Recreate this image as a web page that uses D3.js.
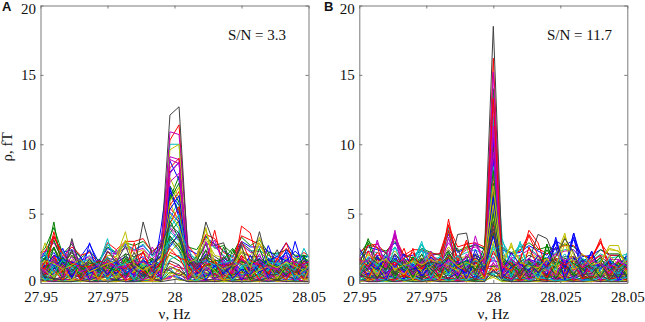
<!DOCTYPE html>
<html>
<head>
<meta charset="utf-8">
<script src="https://d3js.org/d3.v7.min.js"></script>
<style>
  html, body { margin: 0; padding: 0; background: #fff; }
  svg { display: block; }
  text { font-family: "Liberation Serif", serif; font-size: 15px; fill: #111; }
  .letter { font-family: "Liberation Sans", sans-serif; font-size: 13px; font-weight: bold; }
</style>
</head>
<body>
<svg id="chart" width="645" height="322"></svg>
<script>
// tick labels
const xTicks = [27.95, 27.975, 28, 28.025, 28.05];
const yTicks = [0, 5, 10, 15, 20];

// frequency bins, panel A sits half a bin off the 28 Hz line
const freqsA = [27.9483,27.9517,27.955,27.9583,27.9617,27.965,27.9683,27.9717,27.975,27.9783,27.9817,27.985,27.9883,27.9917,27.995,27.9983,
                28.0017,28.005,28.0083,28.0117,28.015,28.0183,28.0217,28.025,28.0283,28.0317,28.035,28.0383,28.0417,28.045,28.0483,28.0517];
const freqsB = [27.95,27.9533,27.9567,27.96,27.9633,27.9667,27.97,27.9733,27.9767,27.98,27.9833,27.9867,27.99,27.9933,27.9967,28,
                28.0033,28.0067,28.01,28.0133,28.0167,28.02,28.0233,28.0267,28.03,28.0333,28.0367,28.04,28.0433,28.0467,28.05];

// amplitude per channel
const channelsA = [
  [0.2,0.3,0.1,0.3,0.2,0.1,0.3,0.1,0.2,0.3,0.1,0.2,0.3,0.1,0.2,0.5,0.4,0.1,0.3,0.1,0.2,0.3,0.1,0.2,0.1,0.3,0.2,0.1,0.3,0.1,0.2,0.3],
  [0.1,0.2,0.3,0.1,0.1,0.3,0.1,0.2,0.1,0.1,0.3,0.1,0.1,0.3,0.1,0.8,0.6,0.3,0.1,0.2,0.1,0.1,0.3,0.1,0.3,0.1,0.1,0.3,0.1,0.2,0.1,0.1],
  [0.3,0.1,0.2,0.1,0.3,0.2,0.1,0.1,0.3,0.1,0.2,0.3,0.1,0.2,0.3,0.3,1.0,0.2,0.1,0.3,0.1,0.2,0.1,0.3,0.2,0.1,0.3,0.2,0.1,0.3,0.1,0.2],
  [0.1,0.4,0.1,0.2,0.1,0.1,0.4,0.2,0.1,0.2,0.1,0.1,0.2,0.1,0.1,1.1,0.3,0.1,0.2,0.1,0.3,0.1,0.2,0.1,0.1,0.2,0.1,0.1,0.2,0.1,0.4,0.1],
  [0.2,0.1,0.1,0.4,0.1,0.3,0.1,0.1,0.2,0.4,0.1,0.1,0.4,0.1,0.2,0.4,0.7,0.1,0.1,0.2,0.1,0.4,0.1,0.1,0.4,0.1,0.2,0.1,0.1,0.4,0.1,0.1],
  [0.1,0.1,0.3,0.1,0.2,0.1,0.2,0.3,0.1,0.1,0.2,0.4,0.1,0.1,0.1,0.6,0.2,0.2,0.1,0.1,0.2,0.1,0.1,0.2,0.1,0.1,0.3,0.1,0.2,0.1,0.1,0.2],
  [0.3,0.2,0.1,0.1,0.1,0.2,0.1,0.1,0.1,0.2,0.1,0.1,0.2,0.3,0.1,0.2,0.3,0.1,0.1,0.1,0.1,0.2,0.1,0.1,0.1,0.2,0.1,0.2,0.1,0.1,0.1,0.1],
  [1.8,2.2,3.3,2.2,2.4,1.9,2.8,1.5,2.5,2.1,2.8,2.4,2.7,2.0,3.1,6.7,5.0,2.4,2.1,3.3,2.8,2.3,1.9,3.0,2.6,2.6,2.3,1.9,2.9,1.9,1.9,1.9],
  [1.9,2.5,4.0,2.1,2.8,1.8,2.3,1.6,2.6,2.2,2.9,2.7,3.0,2.3,2.7,6.1,7.7,2.6,2.4,3.4,2.5,2.7,2.1,3.3,2.7,3.1,2.2,2.1,2.4,2.0,2.0,1.8],
  [2.0,2.3,3.4,1.9,2.6,2.0,2.2,1.4,2.9,2.4,3.0,3.0,3.2,2.2,2.9,5.4,4.6,2.7,1.9,3.5,3.2,2.2,1.8,3.4,3.1,2.8,2.0,1.7,2.5,1.7,2.2,1.7],
  [1.6,2.1,3.0,1.8,2.3,1.5,2.0,1.3,2.8,2.0,2.6,2.4,2.8,1.9,2.5,4.6,6.0,2.0,1.8,2.9,2.6,2.0,1.6,2.7,2.3,2.4,1.8,1.6,2.2,1.8,1.7,2.2],
  [1.4,2.2,2.9,1.7,2.2,1.6,1.9,1.2,2.2,2.1,2.5,2.3,2.5,1.7,2.6,3.9,3.1,1.9,1.6,2.8,2.7,1.9,1.5,2.8,2.2,2.3,1.6,1.5,2.0,1.5,1.6,1.4],
  [1.5,2.0,2.5,1.6,2.0,1.4,1.8,1.2,2.0,1.9,3.0,2.1,2.4,1.6,2.2,5.8,4.3,1.7,1.5,3.2,2.0,1.8,1.4,2.3,2.0,2.8,1.5,1.4,1.8,1.4,1.5,1.7],
  [1.2,1.7,2.6,1.3,2.2,1.3,1.5,1.0,1.8,1.6,2.1,1.9,2.2,1.5,1.9,3.3,2.7,1.5,1.3,2.3,1.9,1.5,1.2,2.2,1.9,1.9,1.3,1.2,1.6,1.2,1.3,1.2],
  [1.1,1.5,2.2,1.2,1.6,1.1,1.7,0.9,1.6,1.5,1.9,1.6,1.9,1.2,2.3,2.6,3.6,1.3,1.2,2.1,1.7,1.3,1.1,1.9,1.6,1.7,1.2,1.0,1.7,1.1,1.1,1.1],
  [1.0,1.4,2.5,1.1,1.5,1.0,1.2,0.8,1.5,1.3,1.7,1.5,1.6,1.1,1.5,2.0,1.6,1.1,1.0,1.9,1.5,1.2,0.9,1.6,1.4,1.5,1.0,0.9,1.3,0.9,1.0,0.9],
  [0.9,1.2,2.0,1.0,1.3,0.9,1.1,0.7,1.2,1.2,1.4,1.3,1.5,1.0,1.3,1.4,1.1,1.0,0.9,1.6,1.5,1.0,0.8,1.7,1.4,1.3,0.9,0.8,1.1,0.8,0.9,0.8],
  [0.8,1.0,1.5,0.8,1.1,0.7,0.9,0.6,1.2,1.0,1.2,1.1,1.3,0.8,1.1,3.0,2.3,0.8,0.7,1.3,1.1,0.8,0.7,1.1,1.0,1.0,0.8,0.7,0.9,0.8,0.8,0.9],
  [0.7,0.9,1.3,0.7,1.0,0.7,0.8,0.5,0.9,0.9,1.1,1.0,1.1,0.7,0.9,1.0,1.3,0.7,0.6,1.1,1.0,0.7,0.6,1.0,0.9,0.9,0.6,0.6,0.8,0.6,0.7,0.6],
  [0.6,0.8,1.2,0.6,0.9,0.5,0.7,0.4,0.7,0.7,1.0,0.8,0.9,0.6,0.8,0.7,0.6,0.6,0.5,1.0,0.8,0.6,0.5,0.8,0.7,0.9,0.5,0.5,0.7,0.5,0.6,0.6],
  [0.4,0.6,0.9,0.4,0.7,0.4,0.5,0.3,0.6,0.5,0.7,0.6,0.7,0.4,0.6,1.2,0.9,0.5,0.4,0.7,0.6,0.4,0.4,0.6,0.5,0.6,0.4,0.3,0.5,0.3,0.4,0.4],
  [1.3,1.8,1.0,1.6,0.8,1.7,1.1,1.5,0.7,1.4,1.0,1.6,0.7,1.7,1.3,6.5,5.6,1.6,1.4,0.9,1.2,1.8,1.3,0.9,1.2,0.8,1.7,1.3,0.8,1.6,1.1,1.5],
  [1.7,1.1,0.5,1.2,0.6,1.3,0.7,1.2,0.5,1.1,0.6,0.9,0.5,1.2,0.7,3.6,4.5,1.2,0.9,0.5,0.7,1.3,1.0,0.6,0.7,0.5,1.1,0.9,0.5,1.0,0.6,1.2],
  [0.9,0.5,1.7,0.9,1.4,0.5,0.9,0.6,1.3,0.7,1.5,0.5,1.8,0.4,1.0,2.2,1.9,0.6,1.0,1.8,0.6,0.5,0.7,2.0,0.5,1.7,0.5,0.6,1.2,0.5,1.2,0.7],
  [0.6,1.3,0.9,0.5,1.6,0.4,1.3,0.8,1.7,0.5,1.3,0.9,0.4,1.3,0.6,1.7,2.0,1.0,0.6,1.4,0.9,0.8,0.4,1.2,1.3,0.5,0.9,0.4,1.4,0.4,0.9,1.3],
  [1.4,0.7,1.9,0.6,0.5,1.0,0.6,0.3,1.1,1.2,0.4,1.3,1.0,0.7,1.6,4.0,3.4,1.4,0.4,1.0,1.3,0.6,1.0,0.5,1.0,1.2,0.6,1.1,0.4,1.0,0.5,1.1],
  [0.3,1.2,0.7,1.4,1.2,0.3,1.5,0.5,0.4,0.9,1.8,0.4,1.2,0.9,0.3,1.2,0.8,0.4,1.2,0.7,1.6,1.1,0.3,1.4,0.4,1.1,0.3,0.8,1.0,0.3,1.3,0.5],
  [0.8,0.4,1.1,1.0,0.7,0.8,0.3,1.0,0.9,0.3,0.8,0.7,0.3,0.8,1.0,0.9,0.5,0.9,0.3,0.6,0.4,1.0,0.7,0.3,0.8,0.4,0.7,0.3,0.7,0.9,0.3,0.7],
  [1.2,0.6,1.0,2.5,0.9,0.4,2.9,1.1,0.7,1.3,0.5,1.6,0.8,0.3,4.0,8.8,7.4,1.9,0.7,1.2,0.6,1.7,0.9,0.4,1.5,0.8,2.7,1.1,0.5,3.0,0.9,1.3],
  [0.8,1.4,4.4,0.7,2.0,1.2,0.5,0.9,1.5,0.6,2.1,0.9,1.3,1.8,0.7,7.0,5.8,0.9,1.6,2.8,1.0,0.6,2.4,1.3,0.7,2.5,0.8,1.2,0.6,1.4,0.9,2.1],
  [1.7,0.9,3.7,1.2,0.5,1.6,1.0,0.4,2.3,1.7,0.8,2.9,0.6,1.1,2.0,10.3,11.4,2.1,0.7,1.4,3.8,1.0,0.6,4.1,3.6,1.1,0.5,1.8,0.9,0.4,1.6,1.0],
  [0.5,1.9,1.1,2.3,0.8,1.4,0.6,1.3,3.2,0.9,1.7,0.5,1.4,0.7,1.2,10.0,10.0,1.0,1.4,0.6,1.3,0.8,2.0,1.2,0.7,1.6,0.9,2.2,1.0,0.5,1.1,2.4],
  [2.2,1.0,0.6,1.4,3.0,0.7,1.8,0.5,1.1,2.4,0.9,1.2,0.7,2.6,1.5,10.9,10.7,2.7,0.5,3.0,1.1,1.6,0.7,1.4,0.9,2.1,0.6,1.3,1.9,0.8,1.2,0.5],
  [0.9,2.9,1.3,0.6,1.7,1.1,0.4,1.0,0.7,1.9,3.7,0.8,1.5,0.6,1.0,9.6,10.0,1.2,2.0,4.0,0.8,1.2,0.5,2.6,1.0,3.3,1.4,0.7,1.1,1.8,0.6,2.5],
  [1.4,0.7,1.8,1.0,2.4,0.6,1.3,0.9,1.9,0.5,1.1,2.2,0.7,1.2,0.8,3.2,2.4,1.1,0.6,1.5,0.8,1.9,1.2,2.7,0.7,1.4,0.6,1.0,1.6,0.9,0.5,1.2],
  [0.6,1.3,0.8,1.9,0.4,1.5,2.4,0.7,1.0,1.6,0.9,0.6,1.7,1.1,0.5,8.0,8.7,1.4,0.8,0.5,1.2,0.7,1.5,0.9,2.0,0.6,1.8,0.7,2.4,1.3,0.8,0.6],
  [1.6,0.4,2.6,0.9,1.5,0.3,1.1,1.6,0.6,1.2,0.4,1.9,1.0,0.5,1.4,6.4,5.2,0.8,1.3,1.9,0.5,2.6,1.0,0.7,1.7,0.4,2.2,0.9,1.4,0.6,1.9,0.8],
  [0.4,1.1,2.0,0.6,1.2,0.8,0.3,1.4,0.9,0.5,1.5,0.7,2.3,0.4,0.9,5.6,6.6,1.3,0.4,0.9,1.5,0.4,0.8,1.8,0.5,1.2,0.7,0.4,1.1,0.6,1.4,0.3],
  [1.0,0.5,1.4,0.3,0.9,1.8,0.7,0.5,1.6,1.1,0.6,1.3,0.4,0.9,1.7,4.8,3.9,0.6,1.0,0.5,1.1,1.5,0.3,1.0,1.4,0.5,0.9,1.6,0.6,1.2,0.3,1.0],
  [1.9,0.8,0.3,1.1,0.6,1.0,1.5,0.3,0.8,0.4,1.2,0.5,1.0,1.5,0.6,9.1,8.9,0.7,0.3,1.1,0.6,0.9,1.4,0.5,0.8,0.3,1.3,0.6,0.2,1.0,0.7,1.6],
  [0.7,1.5,0.5,1.3,0.2,0.8,0.4,1.2,0.5,1.0,0.3,0.9,1.2,0.5,1.1,7.6,6.1,1.5,0.9,0.4,1.7,0.3,1.1,0.7,0.3,1.0,0.5,1.2,0.8,0.4,1.0,0.5],
  [0.3,0.6,1.2,0.4,1.0,0.5,0.9,0.2,0.6,1.4,0.7,0.3,0.8,0.3,0.6,2.8,3.4,0.5,1.1,0.7,0.3,1.0,0.5,0.3,1.1,0.7,0.2,0.8,0.5,1.1,0.3,0.8],
  [1.1,0.3,0.7,1.5,0.5,0.2,0.7,1.0,0.3,0.8,0.4,1.0,0.5,0.9,0.3,5.1,4.4,0.3,0.7,1.0,0.4,0.7,1.2,0.5,0.2,0.8,1.1,0.3,0.6,0.2,0.8,1.3],
  [0.5,1.0,1.6,0.2,0.7,1.2,0.3,0.6,1.1,0.2,0.7,0.3,0.6,1.0,0.5,6.0,7.2,0.7,0.2,0.5,1.0,0.3,0.6,0.9,0.4,0.6,0.3,0.9,0.4,0.7,1.0,0.3],
  [0.2,0.7,0.4,0.9,0.3,0.6,1.0,0.3,0.5,0.9,0.2,0.5,0.9,0.2,0.7,4.3,5.5,0.4,0.9,0.3,0.7,0.2,0.4,0.8,0.3,0.5,0.8,0.2,0.6,0.9,0.2,0.6],
  [0.8,0.2,0.5,0.7,0.2,0.9,0.2,0.7,0.3,0.6,1.0,0.2,0.4,0.7,0.2,3.7,3.0,0.2,0.6,0.3,0.8,0.4,0.2,0.6,0.8,0.2,0.5,0.7,0.2,0.5,0.6,0.2],
  [0.3,0.9,0.2,0.5,0.8,0.3,0.5,0.2,0.8,0.3,0.5,0.7,0.2,0.5,0.9,7.3,7.9,0.5,0.3,0.7,0.2,0.5,0.8,0.2,0.5,0.3,0.6,0.3,0.8,0.2,0.4,0.7],
  [0.6,0.2,0.9,0.3,0.4,0.2,0.6,0.4,0.2,0.5,0.3,0.9,0.3,0.2,0.4,2.2,2.9,0.8,0.2,0.4,0.5,0.2,0.3,0.5,0.2,0.6,0.2,0.4,0.3,0.7,0.2,0.4],
  [0.2,0.5,0.3,0.2,0.6,0.4,0.2,0.5,0.4,0.2,0.6,0.2,0.5,0.3,0.2,1.6,1.3,0.3,0.5,0.2,0.3,0.6,0.2,0.3,0.4,0.2,0.4,0.2,0.5,0.3,0.5,0.2],
  [1.5,1.1,2.0,1.6,0.3,1.9,0.2,1.7,1.2,0.7,1.3,0.4,1.1,1.6,0.3,6.9,4.7,1.2,1.8,0.2,1.3,1.1,1.7,0.2,1.2,1.8,0.4,1.5,2.2,0.2,1.4,1.7],
  [2.0,1.7,0.2,1.8,1.3,0.6,1.6,0.8,1.4,0.2,1.8,1.1,0.2,1.4,1.9,3.4,2.6,1.7,1.2,2.4,0.2,1.4,1.1,1.6,0.2,1.3,1.7,0.2,1.2,1.6,2.0,0.2],
  [0.3,1.6,0.9,0.2,1.4,0.2,1.2,0.2,1.7,1.0,0.2,1.6,0.9,0.2,1.6,8.3,9.0,0.4,1.5,0.9,1.7,0.2,0.9,2.0,1.3,0.2,1.5,0.9,0.2,1.3,0.2,1.4],
  [1.3,0.2,1.2,1.6,0.7,1.4,0.8,1.5,0.2,1.4,1.3,0.2,1.7,0.8,1.2,4.0,4.9,1.8,0.2,1.0,1.4,0.9,0.2,1.1,1.7,0.4,1.0,1.3,1.7,0.2,0.8,1.5],
  [0.2,1.2,1.7,0.4,1.6,1.0,0.2,1.4,0.9,1.8,0.2,1.3,0.2,1.0,0.4,7.9,8.7,0.2,1.2,1.6,0.2,1.3,1.6,0.3,0.9,1.5,0.2,1.1,0.4,1.5,1.2,0.2],
  [1.8,0.9,0.4,1.0,0.2,1.3,1.6,0.2,1.2,0.3,1.6,0.9,1.4,0.2,1.3,5.9,6.9,1.0,0.3,1.3,0.9,0.2,1.2,1.5,0.6,0.9,1.2,0.3,1.3,0.7,0.2,1.7],
  [0.7,1.2,1.5,1.3,0.8,1.6,0.9,1.5,0.6,1.4,1.9,1.0,4.4,2.0,2.6,12.1,12.7,2.2,1.3,4.4,2.7,2.9,1.0,1.6,1.3,3.7,1.2,2.4,0.9,1.6,1.1,0.8],
  [1.6,2.0,1.2,1.7,1.5,1.3,0.9,1.2,0.6,1.5,0.7,1.1,1.6,1.3,2.0,5.3,6.3,1.5,1.0,1.7,1.2,1.4,0.3,1.0,0.6,1.4,1.6,1.9,1.6,2.3,1.7,1.1],
  [1.1,1.8,3.1,1.5,1.3,0.9,1.4,1.5,1.1,0.9,1.6,1.4,1.0,1.7,1.1,4.5,3.2,1.3,1.9,1.2,1.6,1.7,2.5,1.5,1.4,1.7,1.3,1.2,0.6,1.1,1.8,1.4],
  [1.3,1.0,3.3,2.1,1.4,1.2,1.2,1.6,1.4,1.3,1.0,1.7,2.2,0.8,1.5,2.5,1.8,1.6,0.9,1.3,1.5,1.2,1.4,3.0,1.6,1.3,0.7,1.7,2.9,1.2,1.4,1.6],
  [0.9,2.2,0.7,1.7,1.1,1.5,1.7,1.3,1.8,1.2,1.4,1.8,1.2,1.5,2.2,3.0,3.8,2.4,1.5,1.6,1.3,1.5,1.6,1.2,1.5,1.0,1.5,1.4,1.2,0.9,2.5,1.2],
  [1.5,0.8,1.5,1.1,1.9,0.8,1.1,1.3,1.5,1.1,1.2,1.5,1.5,1.2,2.9,8.9,8.6,1.9,1.2,2.0,3.1,1.3,0.8,1.7,1.2,1.6,1.1,1.0,1.6,1.5,1.3,1.9],
  [1.2,1.6,1.4,1.0,1.3,1.7,0.8,1.1,1.4,1.6,3.1,1.3,0.9,1.3,1.8,5.0,4.1,1.5,1.7,3.9,1.4,1.0,1.3,2.2,1.1,2.9,1.4,1.1,1.5,1.2,0.9,1.6],
  [1.4,0.4,0.3,0.4,3.2,1.0,1.7,1.0,2.3,1.5,2.7,1.0,0.6,0.4,2.8,4.2,3.6,1.6,1.1,2.0,1.4,0.8,1.3,2.9,2.4,1.5,0.6,0.6,1.3,0.7,1.6,1.0]
];

const channelsB = [
  [0.2,0.3,0.1,0.2,0.3,0.1,0.2,0.3,0.1,0.2,0.3,0.1,0.3,0.1,0.2,0.9,0.3,0.1,0.3,0.1,0.2,0.3,0.1,0.3,0.1,0.2,0.3,0.1,0.2,0.3,0.1],
  [0.1,0.2,0.3,0.1,0.1,0.3,0.1,0.1,0.3,0.1,0.1,0.3,0.1,0.2,0.1,0.6,0.1,0.3,0.1,0.2,0.1,0.1,0.3,0.1,0.2,0.1,0.1,0.3,0.1,0.1,0.3],
  [0.3,0.1,0.2,0.3,0.1,0.2,0.3,0.1,0.1,0.3,0.1,0.2,0.1,0.3,0.1,1.3,0.2,0.1,0.2,0.3,0.1,0.2,0.1,0.2,0.3,0.1,0.2,0.1,0.3,0.1,0.2],
  [0.1,0.4,0.1,0.1,0.2,0.1,0.1,0.2,0.4,0.1,0.2,0.1,0.2,0.1,0.3,0.7,0.1,0.2,0.1,0.1,0.4,0.1,0.2,0.1,0.1,0.4,0.1,0.2,0.1,0.2,0.1],
  [0.2,0.1,0.1,0.4,0.1,0.1,0.4,0.1,0.2,0.1,0.4,0.1,0.1,0.4,0.1,1.5,0.4,0.1,0.1,0.4,0.1,0.1,0.4,0.1,0.1,0.2,0.1,0.1,0.4,0.1,0.1],
  [0.1,0.2,0.3,0.1,0.3,0.1,0.2,0.1,0.1,0.2,0.1,0.3,0.1,0.1,0.2,0.4,0.1,0.1,0.3,0.1,0.1,0.2,0.1,0.1,0.2,0.1,0.1,0.2,0.1,0.1,0.2],
  [0.3,0.1,0.1,0.2,0.1,0.2,0.1,0.1,0.2,0.1,0.1,0.1,0.2,0.1,0.1,1.0,0.2,0.1,0.1,0.1,0.2,0.1,0.1,0.2,0.1,0.1,0.2,0.1,0.1,0.1,0.1],
  [1.9,2.6,2.4,2.2,2.9,1.9,2.0,2.3,2.0,2.1,3.5,2.2,2.5,2.8,2.4,8.8,2.4,2.1,2.2,2.7,2.3,2.0,3.0,2.7,3.1,1.9,2.0,2.4,2.0,2.0,1.7],
  [2.0,3.0,2.5,2.3,3.0,2.0,1.8,2.5,2.2,2.0,3.7,2.3,2.6,2.7,2.5,11.9,2.5,2.2,2.4,2.9,2.4,2.6,2.4,2.8,2.6,2.0,1.7,2.4,2.1,2.1,1.7],
  [2.2,2.7,2.8,2.1,3.3,2.0,2.4,2.4,2.1,2.1,4.1,2.6,2.8,2.9,2.6,6.9,2.6,2.1,2.3,3.5,2.5,2.1,2.5,2.7,2.7,2.0,1.8,2.9,2.0,2.0,1.6],
  [1.7,2.3,2.2,1.9,2.6,1.7,1.7,2.8,1.8,1.8,3.2,1.9,2.2,2.4,2.0,5.2,3.0,1.9,2.8,2.5,2.0,1.8,2.2,2.4,2.4,1.7,1.6,2.1,1.8,1.9,2.1],
  [1.6,2.3,2.0,1.9,3.5,1.6,1.6,2.0,1.7,1.7,2.9,1.9,2.4,2.6,2.1,10.1,2.0,1.8,2.0,2.4,1.9,1.7,2.1,2.3,2.4,1.6,1.5,2.0,1.7,1.7,1.4],
  [1.4,2.0,1.8,1.8,2.3,1.5,1.5,1.8,1.6,1.6,2.6,1.8,1.9,2.1,1.8,3.3,1.8,2.6,1.7,2.2,1.8,1.6,1.9,3.3,2.0,1.5,1.3,1.8,2.4,2.3,1.3],
  [1.3,1.8,1.7,1.5,2.1,1.4,1.3,1.7,1.4,1.5,2.4,1.6,1.8,2.0,1.6,2.1,1.6,1.4,1.5,2.0,1.7,1.5,1.7,1.9,1.9,1.3,1.2,1.6,1.4,1.4,1.1],
  [1.1,1.6,1.4,1.3,1.8,1.1,1.1,1.4,1.2,1.2,2.1,1.4,1.6,1.8,1.5,1.6,1.5,1.3,1.3,1.7,1.5,1.3,1.5,1.6,1.8,1.1,1.1,1.4,1.2,1.2,1.0],
  [1.0,1.4,1.3,1.2,1.7,1.0,1.0,1.3,1.1,1.1,1.9,1.2,1.4,1.5,1.2,1.2,1.3,1.2,1.2,1.6,1.3,1.2,1.3,1.5,1.4,1.0,0.9,1.3,1.1,1.1,0.9],
  [0.9,1.2,1.2,1.1,1.5,0.9,1.0,1.1,1.0,1.0,1.8,1.1,1.3,1.4,1.2,0.9,1.1,1.0,1.1,1.4,1.2,1.0,1.2,1.3,1.3,0.9,0.8,1.2,1.0,1.0,0.8],
  [0.8,1.0,1.0,0.9,1.2,0.8,0.8,1.0,0.9,0.9,1.5,1.0,1.1,1.2,1.0,0.6,1.0,0.9,1.0,1.2,1.1,0.9,1.0,1.1,1.1,0.8,0.7,1.0,0.9,0.9,0.8],
  [0.6,0.8,0.8,0.8,1.0,0.6,0.7,0.8,0.7,0.7,1.2,0.8,0.9,1.0,0.9,1.4,0.9,0.7,0.8,1.0,0.9,0.7,0.8,0.9,1.0,0.6,0.6,0.8,0.7,0.7,0.6],
  [0.5,0.7,0.7,0.6,0.9,0.5,0.6,0.7,0.6,0.6,1.0,0.7,0.8,0.9,0.7,0.4,0.7,0.6,0.7,0.9,0.8,0.6,0.7,0.8,0.8,0.5,0.5,0.7,0.6,0.6,0.5],
  [0.4,0.5,0.5,0.5,0.7,0.4,0.4,0.6,0.5,0.5,0.8,0.5,0.6,0.7,0.6,0.8,0.6,0.5,0.5,0.7,0.6,0.5,0.6,0.7,0.6,0.4,0.4,0.6,0.5,0.5,0.4],
  [1.5,0.9,1.9,0.6,1.3,1.6,0.8,1.7,0.4,1.8,0.7,1.7,0.5,1.4,2.0,6.3,0.7,1.6,0.6,1.4,0.7,1.7,0.8,1.2,0.6,1.5,1.0,0.7,1.6,0.7,1.4],
  [0.8,1.8,0.5,1.6,0.5,1.2,1.8,0.4,1.5,1.0,0.6,1.3,1.9,0.4,1.6,4.5,1.8,0.5,1.6,0.5,1.5,0.4,1.3,0.5,1.6,0.7,1.3,0.4,0.9,1.5,0.4],
  [1.7,0.4,1.1,1.4,0.7,0.4,1.0,1.5,0.8,0.4,1.3,0.4,1.0,1.6,0.4,3.7,0.4,1.2,0.8,0.4,1.2,0.9,0.4,1.5,0.5,0.9,0.4,1.5,0.5,1.0,0.8],
  [0.5,1.5,0.4,1.0,1.6,0.8,0.5,1.2,0.4,1.3,0.5,0.9,1.6,0.5,1.1,2.6,1.2,0.8,0.4,1.3,0.4,1.3,0.6,0.4,1.2,0.4,1.2,0.8,0.4,1.3,0.6],
  [1.0,0.6,1.5,0.4,0.8,1.1,0.4,0.9,1.4,0.7,1.6,0.5,0.8,1.2,0.8,1.9,0.5,1.0,1.4,0.8,1.3,0.4,1.1,0.7,0.4,1.1,0.6,1.1,1.3,0.4,1.0],
  [0.3,1.1,0.7,1.2,0.4,0.6,1.3,0.5,1.1,0.5,0.9,1.3,0.3,1.0,0.5,1.1,0.9,0.3,1.1,0.5,0.8,1.1,0.3,1.0,0.8,0.3,0.8,0.4,1.0,0.7,0.3],
  [0.7,0.3,0.9,0.7,0.3,0.9,0.6,0.3,0.8,1.0,0.3,0.7,1.1,0.3,0.8,0.5,0.4,0.7,0.3,0.9,0.4,0.7,0.9,0.3,0.7,0.5,0.3,0.9,0.3,0.8,0.6],
  [1.1,0.6,1.8,0.9,2.0,0.7,1.3,0.4,1.6,0.8,1.2,0.5,1.1,2.1,0.7,10.5,1.2,0.6,1.4,0.8,1.7,0.5,3.3,1.0,3.6,0.9,2.3,0.7,1.5,0.6,1.2],
  [0.7,2.9,1.0,1.5,0.5,1.8,0.9,2.1,0.6,1.4,2.3,0.8,1.3,0.6,1.9,14.0,0.9,1.7,0.7,1.2,0.6,2.8,1.1,0.5,1.9,0.8,1.4,0.6,1.2,2.0,0.7],
  [1.5,2.7,2.6,0.7,1.2,2.5,0.6,1.1,2.2,0.9,4.6,1.4,3.1,1.0,0.6,16.2,1.4,0.8,1.6,3.8,2.9,0.9,1.4,0.7,1.2,0.6,1.7,3.2,0.8,1.3,1.0],
  [0.5,1.3,0.8,1.6,1.0,0.6,1.5,3.0,0.7,1.2,4.0,0.6,1.4,0.7,1.5,12.0,3.2,1.0,3.0,0.6,1.3,0.8,1.7,1.1,0.6,1.4,0.9,0.5,1.3,0.7,2.2],
  [2.0,0.8,3.1,1.1,3.8,0.5,1.2,0.9,1.5,0.7,3.3,0.9,0.6,3.4,1.1,15.2,0.7,1.3,0.6,1.8,0.8,1.4,0.6,1.6,0.9,1.7,0.7,1.2,1.9,0.8,1.5],
  [0.8,1.7,0.6,1.3,0.9,1.4,0.5,1.0,2.3,0.6,1.1,1.7,2.6,0.8,1.6,4.8,1.0,2.9,0.8,1.3,0.6,1.0,1.9,3.6,0.7,1.2,0.5,1.4,2.7,2.7,0.6],
  [1.2,0.5,1.4,2.2,0.6,1.0,0.7,1.6,0.5,1.8,0.8,1.2,0.5,1.5,0.9,9.8,1.9,0.5,1.1,0.7,1.5,0.5,1.2,0.6,1.3,0.5,1.1,0.8,0.5,1.0,1.4],
  [0.4,1.0,2.0,0.7,1.4,0.3,1.1,0.6,1.0,0.4,1.5,0.6,1.7,0.4,1.2,9.0,0.4,1.1,1.6,0.5,1.0,1.7,2.9,0.8,3.3,0.4,2.3,0.6,1.1,0.4,0.8],
  [1.7,0.9,0.4,1.1,0.8,1.6,0.4,0.9,1.3,0.5,1.0,0.4,0.9,1.3,0.5,7.2,1.1,0.4,0.8,1.5,0.4,2.8,0.6,1.3,0.5,1.0,0.4,1.3,0.6,1.5,0.5],
  [0.6,2.3,1.0,0.4,1.1,0.5,2.5,0.4,0.7,1.1,3.8,0.7,0.4,1.0,0.4,7.8,0.7,1.3,0.5,0.9,1.2,0.4,0.8,0.4,1.0,0.7,1.2,0.4,0.9,0.5,1.1],
  [0.3,0.7,1.2,0.5,0.3,0.9,1.2,2.5,0.4,0.8,0.5,1.0,0.6,0.3,0.8,8.4,0.3,0.6,1.2,0.4,0.7,0.3,1.1,0.5,0.3,0.8,0.5,0.9,0.3,0.7,1.9],
  [1.0,0.4,0.7,0.9,3.4,0.4,0.7,0.3,1.1,0.6,0.3,0.8,0.3,0.9,0.5,12.9,0.9,0.4,0.3,0.7,0.4,0.9,0.3,0.7,0.9,0.3,0.7,0.3,0.7,1.1,0.3],
  [0.3,0.9,0.3,0.6,0.2,0.7,0.3,0.8,0.3,0.5,0.9,0.3,0.6,0.7,0.3,5.9,0.3,0.8,0.5,0.3,0.9,0.3,0.6,0.3,0.8,0.4,0.3,0.8,0.4,0.3,0.7],
  [0.7,0.3,0.5,0.3,0.7,0.2,0.5,0.3,0.7,0.3,0.6,0.2,0.5,0.3,0.7,6.6,0.5,0.3,0.7,0.5,0.3,0.6,0.2,0.5,0.3,0.6,0.2,0.5,0.3,0.6,0.3],
  [0.4,0.7,0.2,0.5,0.4,0.3,0.7,0.2,0.4,0.2,0.4,0.7,0.2,0.5,0.2,5.4,0.7,0.2,0.4,0.3,0.6,0.2,0.4,0.2,0.5,0.2,0.5,0.2,0.4,0.2,0.5],
  [0.2,0.4,0.6,0.2,0.3,0.5,0.2,0.5,0.3,0.6,0.2,0.4,0.3,0.2,0.5,3.6,0.2,0.5,0.2,0.6,0.2,0.4,0.5,0.3,0.2,0.4,0.3,0.6,0.2,0.5,0.2],
  [0.6,0.2,0.4,0.3,0.2,0.6,0.3,0.2,0.5,0.2,0.4,0.2,0.5,0.3,0.3,4.2,0.5,0.3,0.2,0.4,0.3,0.2,0.3,0.5,0.2,0.3,0.5,0.2,0.3,0.4,0.2],
  [0.2,0.5,0.3,0.2,0.5,0.2,0.4,0.2,0.3,0.4,0.2,0.3,0.2,0.4,0.2,2.8,0.3,0.2,0.4,0.2,0.4,0.3,0.2,0.2,0.4,0.2,0.2,0.4,0.2,0.3,0.4],
  [1.6,1.2,0.2,1.4,0.2,1.1,0.8,1.3,0.2,1.4,1.1,0.2,1.2,0.2,1.3,11.3,1.4,0.2,1.2,0.2,1.2,1.0,0.2,1.4,0.2,1.1,1.4,0.2,1.3,0.2,1.3],
  [0.9,0.2,1.5,0.2,1.2,1.4,0.2,1.4,0.9,0.2,1.5,0.9,0.2,1.3,0.3,3.0,0.2,1.4,0.2,1.3,0.2,1.5,0.8,0.2,1.3,0.9,0.2,1.2,0.2,1.4,0.9],
  [1.4,1.3,0.3,1.7,0.7,1.2,1.7,0.2,1.6,1.1,0.2,1.4,1.0,0.2,1.5,3.9,1.3,1.6,0.2,1.0,1.4,0.2,1.5,1.2,0.4,1.0,0.2,1.6,0.2,1.1,1.3],
  [1.3,1.6,1.2,0.2,1.7,0.8,1.4,0.5,1.3,1.5,0.7,1.6,0.3,1.6,1.2,6.2,0.3,1.2,1.4,1.7,0.7,1.3,2.6,0.2,1.8,0.6,1.4,1.1,1.4,0.2,1.6],
  [0.6,1.5,0.9,1.5,0.3,1.6,0.4,1.7,1.0,0.4,1.9,0.3,1.5,1.0,1.8,5.0,1.6,0.7,1.8,0.4,1.6,1.8,0.3,1.3,0.6,1.7,1.2,0.4,1.7,1.2,0.4],
  [1.8,0.3,1.7,1.2,1.5,0.4,1.8,1.0,1.7,0.3,2.0,1.3,0.8,1.8,0.4,2.3,1.1,1.5,0.3,2.6,1.1,0.4,1.7,1.0,1.4,0.3,1.6,2.0,0.4,1.6,0.9],
  [0.5,1.9,1.3,0.8,2.6,1.0,1.1,2.4,0.4,1.6,0.6,1.9,1.1,0.5,2.2,1.7,2.5,0.4,2.0,1.0,0.4,1.6,1.2,1.7,0.7,1.5,0.8,1.7,1.1,0.5,1.8],
  [1.9,1.0,1.6,0.5,1.3,1.7,0.6,1.4,1.8,0.9,1.4,0.5,2.1,1.2,0.6,11.0,0.5,1.8,1.1,0.5,1.7,1.2,0.5,1.8,1.2,0.6,1.1,1.3,0.7,1.7,1.0],
  [1.0,1.6,0.5,1.8,1.0,0.6,1.6,0.8,1.2,1.7,1.2,0.9,1.3,1.7,1.3,5.6,1.3,0.9,1.4,1.6,0.9,1.8,0.7,2.9,1.0,1.3,1.6,0.6,2.0,1.3,0.7],
  [0.6,1.1,1.9,1.3,0.7,1.5,1.0,1.8,0.6,1.3,0.9,3.5,3.6,0.6,2.2,18.5,1.9,1.2,0.5,1.6,3.5,3.2,1.6,1.3,0.7,1.4,1.0,1.9,1.4,0.8,1.3],
  [2.5,1.4,1.0,1.9,1.1,2.1,1.2,0.7,1.9,1.2,1.7,1.1,0.7,2.4,1.0,3.4,0.8,2.2,1.3,0.9,2.0,1.0,3.1,1.1,3.6,1.5,2.1,1.0,1.6,1.2,2.0],
  [1.3,3.2,1.4,1.0,1.7,0.9,1.9,1.2,1.5,0.8,2.2,1.3,1.6,0.9,2.6,8.1,1.8,1.3,0.9,1.5,1.0,2.4,1.3,1.8,1.4,1.0,1.4,1.8,0.9,1.4,1.1],
  [1.7,1.2,2.2,1.5,1.3,1.8,2.2,1.0,2.0,1.6,4.2,1.6,2.9,1.4,1.7,13.3,1.2,0.9,1.7,3.4,2.0,1.2,1.8,1.3,1.6,1.1,1.9,3.0,1.3,1.1,1.6],
  [1.1,1.8,1.2,2.0,1.6,1.2,1.4,2.8,1.3,1.9,1.3,2.0,1.3,1.6,1.2,2.4,2.7,1.5,2.7,1.2,1.6,1.0,1.4,2.1,1.1,1.8,1.2,1.1,1.7,1.0,1.5],
  [1.5,1.6,2.9,1.2,3.6,1.4,1.1,1.5,2.3,1.1,1.6,1.4,1.8,2.9,1.4,9.4,1.0,1.7,1.2,1.8,1.2,1.5,2.1,1.6,1.9,1.2,1.6,1.3,1.1,1.6,1.2],
  [1.2,2.1,1.5,1.7,1.0,1.3,1.6,1.3,1.7,1.4,1.9,1.2,1.5,1.2,1.9,7.0,1.5,2.7,1.5,1.2,1.1,1.7,1.2,3.4,1.5,2.1,1.3,1.5,2.5,2.3,1.3],
  [0.6,0.4,0.35,0.9,2.1,1.2,0.8,1.2,1.5,1.4,1.9,2.5,0.8,2.0,1.0,4.4,0.5,0.1,0.9,1.4,0.8,1.2,1.9,3.2,2.2,0.6,0.7,1.3,0.5,0.6,0.6]
];

const colorCycle = ["#0000ff", "#008000", "#ff0000", "#00bfbf", "#bf00bf", "#bfbf00", "#404040"];

const plotTop = 5.5, plotBottom = 283;
const plotWidth = 268;
const svg = d3.select("#chart");

function drawPanel(left, freqs, channels, snText, letter, letterX, snX, id) {
    const x = d3.scaleLinear().domain([27.95, 28.05]).range([left, left + plotWidth]);
    const y = d3.scaleLinear().domain([0, 20]).range([plotBottom, plotTop]);

    svg.append("clipPath").attr("id", id)
        .append("rect")
        .attr("x", left).attr("y", plotTop)
        .attr("width", plotWidth).attr("height", plotBottom - plotTop);

    const line = d3.line()
        .x((d, i) => x(freqs[i]))
        .y(d => y(d));

    svg.append("g")
        .attr("clip-path", `url(#${id})`)
        .selectAll("path")
        .data(channels)
        .join("path")
        .attr("d", line)
        .attr("fill", "none")
        .attr("stroke", (d, i) => colorCycle[i % colorCycle.length])
        .attr("stroke-width", 1);

    // all four sides get inward ticks, only bottom and left are labelled
    const bottom = d3.axisBottom(x).tickValues(xTicks).tickFormat(d3.format("")).tickSizeInner(-3).tickSizeOuter(0).tickPadding(8.3);
    const top = d3.axisTop(x).tickValues(xTicks).tickFormat("").tickSizeInner(-3).tickSizeOuter(0);
    const leftAxis = d3.axisLeft(y).tickValues(yTicks).tickFormat(d3.format("d")).tickSizeInner(-3).tickSizeOuter(0).tickPadding(4.5);
    const rightAxis = d3.axisRight(y).tickValues(yTicks).tickFormat("").tickSizeInner(-3).tickSizeOuter(0);

    const axes = [
        [bottom, `translate(0,${plotBottom})`],
        [top, `translate(0,${plotTop})`],
        [leftAxis, `translate(${left},0)`],
        [rightAxis, `translate(${left + plotWidth},0)`]
    ];
    axes.forEach(([axis, tr]) => {
        const g = svg.append("g").attr("transform", tr).call(axis);
        g.attr("font-size", null).attr("font-family", null);
        g.selectAll("path, line").attr("stroke", "#7a7a7a");
        // nudge the end labels so they stay on the page and clear of the x labels
        g.selectAll("text").filter(d => d === 20).attr("y", 3);
        g.selectAll("text").filter(d => d === 0).attr("y", -2.6);
    });

    svg.append("text")
        .attr("x", left + plotWidth / 2)
        .attr("y", 318.6)
        .attr("text-anchor", "middle")
        .text("ν, Hz");

    svg.append("text")
        .attr("x", snX)
        .attr("y", 39.5)
        .text(snText);

    svg.append("text")
        .attr("class", "letter")
        .attr("x", letterX)
        .attr("y", 11)
        .text(letter);
}

drawPanel(40.5, freqsA, channelsA, "S/N = 3.3", "A", 2, 228, "clipA");
drawPanel(359.3, freqsB, channelsB, "S/N = 11.7", "B", 324, 547, "clipB");

svg.append("text")
    .attr("transform", "translate(12,147) rotate(-90)")
    .attr("text-anchor", "middle")
    .text("ρ, fT");
</script>
</body>
</html>
